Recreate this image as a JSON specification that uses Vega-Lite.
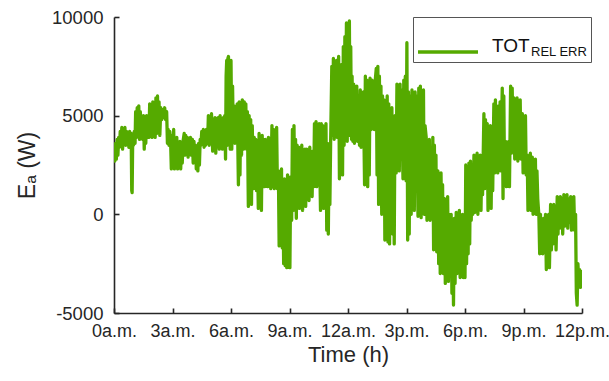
{
"$schema":"https://vega.github.io/schema/vega-lite/v6.json",
"width":468,"height":296,
"autosize":{"type":"none"},
"padding":{"left":114,"top":17,"right":27,"bottom":68},
"background":"white",
"config":{"view":{"stroke":null},"font":"Liberation Sans"},
"data":{"values":[
{"h":0,"e":3200},{"h":0.04,"e":2700},{"h":0.08,"e":3600},{"h":0.12,"e":2800},{"h":0.16,"e":3800},{"h":0.2,"e":3000},{"h":0.24,"e":3900},
{"h":0.28,"e":3400},{"h":0.32,"e":4200},{"h":0.36,"e":3500},{"h":0.4,"e":4400},{"h":0.44,"e":3300},{"h":0.48,"e":4300},{"h":0.52,"e":3600},{"h":0.56,"e":4400},
{"h":0.6,"e":3500},{"h":0.64,"e":4200},{"h":0.68,"e":3600},{"h":0.72,"e":4100},{"h":0.76,"e":3400},{"h":0.8,"e":4200},{"h":0.84,"e":3700},
{"h":0.88,"e":4100},{"h":0.91,"e":1200},{"h":0.93,"e":1100},{"h":0.96,"e":3900},{"h":1.0,"e":3500},{"h":1.04,"e":4200},{"h":1.08,"e":3600},
{"h":1.11,"e":5200},{"h":1.15,"e":3900},{"h":1.19,"e":5400},{"h":1.23,"e":4000},{"h":1.27,"e":5500},{"h":1.31,"e":3800},{"h":1.35,"e":5200},{"h":1.39,"e":4200},{"h":1.43,"e":4900},{"h":1.47,"e":3800},{"h":1.51,"e":5000},
{"h":1.55,"e":3300},{"h":1.59,"e":4800},{"h":1.63,"e":3600},{"h":1.67,"e":5000},{"h":1.71,"e":3900},{"h":1.75,"e":4700},
{"h":1.79,"e":3900},{"h":1.83,"e":5600},{"h":1.87,"e":4000},{"h":1.91,"e":5300},{"h":1.95,"e":3900},{"h":1.99,"e":5700},{"h":2.03,"e":4200},{"h":2.07,"e":5400},{"h":2.11,"e":3900},
{"h":2.15,"e":5900},{"h":2.19,"e":4100},{"h":2.23,"e":6000},{"h":2.27,"e":4300},{"h":2.31,"e":5700},{"h":2.35,"e":4000},
{"h":2.4,"e":5400},{"h":2.45,"e":4800},{"h":2.5,"e":5300},{"h":2.55,"e":4900},{"h":2.6,"e":5400},{"h":2.65,"e":4800},{"h":2.7,"e":5200},
{"h":2.74,"e":3600},{"h":2.78,"e":4300},{"h":2.82,"e":3500},{"h":2.86,"e":4200},
{"h":2.9,"e":3800},{"h":2.94,"e":2300},{"h":2.98,"e":4000},{"h":3.02,"e":2600},{"h":3.06,"e":4300},{"h":3.1,"e":2300},{"h":3.14,"e":3700},{"h":3.18,"e":2500},{"h":3.22,"e":3900},
{"h":3.26,"e":2300},{"h":3.3,"e":3600},{"h":3.34,"e":2500},{"h":3.38,"e":3700},{"h":3.42,"e":2300},{"h":3.46,"e":3400},{"h":3.5,"e":2600},{"h":3.54,"e":3700},
{"h":3.6,"e":4100},{"h":3.64,"e":3000},{"h":3.68,"e":4000},{"h":3.72,"e":3100},{"h":3.76,"e":3900},{"h":3.8,"e":2900},{"h":3.84,"e":3800},{"h":3.88,"e":3200},{"h":3.92,"e":3900},{"h":3.96,"e":3000},
{"h":4.02,"e":3800},{"h":4.06,"e":2600},{"h":4.1,"e":3700},{"h":4.14,"e":2800},{"h":4.18,"e":3500},{"h":4.22,"e":2300},{"h":4.26,"e":3300},{"h":4.3,"e":2200},{"h":4.34,"e":3600},{"h":4.38,"e":2500},{"h":4.42,"e":3800},
{"h":4.46,"e":3500},{"h":4.5,"e":4200},{"h":4.54,"e":3600},{"h":4.58,"e":4300},{"h":4.62,"e":3400},{"h":4.66,"e":4000},{"h":4.7,"e":3500},{"h":4.74,"e":4300},
{"h":4.8,"e":3600},{"h":4.84,"e":5000},{"h":4.88,"e":3500},{"h":4.92,"e":4800},{"h":4.96,"e":3700},{"h":5.0,"e":5100},
{"h":5.06,"e":3200},{"h":5.1,"e":4800},{"h":5.14,"e":3400},{"h":5.18,"e":4900},{"h":5.22,"e":3100},{"h":5.26,"e":4600},{"h":5.3,"e":3500},{"h":5.34,"e":4900},
{"h":5.4,"e":3300},{"h":5.44,"e":5000},{"h":5.48,"e":3600},{"h":5.52,"e":4800},{"h":5.56,"e":3300},{"h":5.6,"e":4900},{"h":5.64,"e":3800},{"h":5.68,"e":5000},
{"h":5.72,"e":2800},{"h":5.75,"e":7000},{"h":5.78,"e":7800},{"h":5.81,"e":3500},{"h":5.84,"e":7900},{"h":5.87,"e":8000},{"h":5.9,"e":4000},{"h":5.93,"e":7600},{"h":5.96,"e":3300},
{"h":6.0,"e":7800},{"h":6.04,"e":3300},{"h":6.08,"e":6500},
{"h":6.12,"e":3700},{"h":6.16,"e":5500},{"h":6.2,"e":3600},{"h":6.24,"e":5400},{"h":6.28,"e":4000},{"h":6.32,"e":5600},
{"h":6.38,"e":1500},{"h":6.42,"e":5700},{"h":6.46,"e":2000},{"h":6.5,"e":5500},{"h":6.54,"e":3000},{"h":6.58,"e":5800},
{"h":6.64,"e":3300},{"h":6.68,"e":5700},{"h":6.72,"e":3500},{"h":6.76,"e":5600},{"h":6.8,"e":3300},{"h":6.84,"e":5200},
{"h":6.89,"e":400},{"h":6.93,"e":5000},{"h":6.97,"e":1000},{"h":7.01,"e":4800},{"h":7.05,"e":500},{"h":7.09,"e":4500},
{"h":7.15,"e":1300},{"h":7.19,"e":3900},{"h":7.23,"e":2000},{"h":7.27,"e":3800},{"h":7.31,"e":1200},{"h":7.35,"e":3700},
{"h":7.4,"e":300},{"h":7.44,"e":4100},{"h":7.48,"e":1200},{"h":7.52,"e":3900},{"h":7.56,"e":200},{"h":7.6,"e":4000},{"h":7.64,"e":1500},{"h":7.68,"e":3800},{"h":7.72,"e":1400},
{"h":7.76,"e":3800},{"h":7.8,"e":1500},{"h":7.84,"e":3600},{"h":7.88,"e":1400},{"h":7.92,"e":3900},{"h":7.96,"e":1600},{"h":8.0,"e":3700},{"h":8.04,"e":1300},
{"h":8.1,"e":4500},{"h":8.14,"e":1400},{"h":8.18,"e":4300},{"h":8.22,"e":1300},{"h":8.26,"e":4100},{"h":8.3,"e":1800},{"h":8.34,"e":4400},{"h":8.38,"e":1300},
{"h":8.43,"e":2200},{"h":8.47,"e":-1600},{"h":8.51,"e":1800},{"h":8.55,"e":-1000},{"h":8.59,"e":2300},{"h":8.63,"e":-1700},{"h":8.66,"e":1500},
{"h":8.7,"e":-2500},{"h":8.74,"e":1800},{"h":8.78,"e":-2600},{"h":8.82,"e":1200},{"h":8.86,"e":-2700},{"h":8.9,"e":2000},{"h":8.94,"e":-2200},{"h":8.98,"e":1600},{"h":9.02,"e":-2700},{"h":9.06,"e":1900},
{"h":9.11,"e":-300},{"h":9.15,"e":4300},{"h":9.19,"e":200},{"h":9.23,"e":4500},{"h":9.27,"e":800},{"h":9.31,"e":3800},{"h":9.35,"e":-200},{"h":9.39,"e":3500},{"h":9.43,"e":500},
{"h":9.47,"e":3400},{"h":9.51,"e":300},{"h":9.55,"e":3200},{"h":9.59,"e":1200},{"h":9.63,"e":3500},{"h":9.67,"e":200},{"h":9.71,"e":3000},{"h":9.75,"e":800},{"h":9.79,"e":3300},{"h":9.83,"e":400},
{"h":9.88,"e":3300},{"h":9.92,"e":800},{"h":9.96,"e":3100},{"h":10.0,"e":700},{"h":10.04,"e":3400},{"h":10.08,"e":1500},{"h":10.12,"e":2900},{"h":10.16,"e":900},{"h":10.2,"e":3200},
{"h":10.24,"e":1400},{"h":10.28,"e":4600},{"h":10.32,"e":1800},{"h":10.36,"e":4700},{"h":10.4,"e":1400},{"h":10.44,"e":4500},{"h":10.48,"e":2000},{"h":10.52,"e":4600},
{"h":10.59,"e":200},{"h":10.63,"e":4600},{"h":10.67,"e":1000},{"h":10.71,"e":4500},{"h":10.75,"e":300},{"h":10.79,"e":4200},{"h":10.83,"e":1500},{"h":10.87,"e":4600},
{"h":10.91,"e":-800},{"h":10.95,"e":3600},{"h":10.99,"e":-1000},{"h":11.03,"e":3000},{"h":11.07,"e":500},{"h":11.11,"e":3700},
{"h":11.17,"e":7500},{"h":11.21,"e":4000},{"h":11.25,"e":7900},{"h":11.29,"e":3800},{"h":11.33,"e":6500},{"h":11.37,"e":4200},{"h":11.41,"e":7800},{"h":11.45,"e":3900},
{"h":11.52,"e":8000},{"h":11.56,"e":1800},{"h":11.6,"e":7000},{"h":11.64,"e":3000},{"h":11.68,"e":7600},{"h":11.72,"e":2000},
{"h":11.76,"e":8500},{"h":11.8,"e":3500},{"h":11.84,"e":9000},{"h":11.88,"e":4500},{"h":11.92,"e":9700},{"h":11.96,"e":3700},
{"h":12.0,"e":9300},{"h":12.04,"e":4000},{"h":12.07,"e":9800},{"h":12.1,"e":5000},{"h":12.14,"e":8500},{"h":12.18,"e":3800},{"h":12.21,"e":7000},
{"h":12.25,"e":3700},{"h":12.29,"e":6600},{"h":12.33,"e":3600},{"h":12.37,"e":6200},{"h":12.41,"e":4000},{"h":12.45,"e":6500},{"h":12.49,"e":3700},{"h":12.53,"e":6000},
{"h":12.59,"e":3500},{"h":12.63,"e":6300},{"h":12.67,"e":3400},{"h":12.71,"e":6100},{"h":12.75,"e":3800},{"h":12.79,"e":6200},
{"h":12.85,"e":1500},{"h":12.89,"e":7000},{"h":12.93,"e":2500},{"h":12.97,"e":6800},{"h":13.01,"e":1400},{"h":13.05,"e":6500},{"h":13.09,"e":2000},{"h":13.13,"e":6900},
{"h":13.19,"e":4300},{"h":13.23,"e":6800},{"h":13.27,"e":4500},{"h":13.31,"e":6600},{"h":13.35,"e":4300},{"h":13.39,"e":6700},
{"h":13.45,"e":7400},{"h":13.49,"e":2000},{"h":13.53,"e":7500},{"h":13.57,"e":500},{"h":13.61,"e":7000},{"h":13.65,"e":1500},{"h":13.69,"e":6500},{"h":13.73,"e":0},{"h":13.77,"e":6000},{"h":13.81,"e":1000},{"h":13.85,"e":5800},{"h":13.89,"e":-1300},{"h":13.93,"e":5500},{"h":13.97,"e":-500},{"h":14.01,"e":6000},
{"h":14.05,"e":-1400},{"h":14.09,"e":5600},{"h":14.13,"e":-1500},{"h":14.17,"e":5200},{"h":14.21,"e":200},{"h":14.25,"e":5400},{"h":14.29,"e":-1000},{"h":14.33,"e":4800},{"h":14.37,"e":-1500},{"h":14.41,"e":5000},
{"h":14.47,"e":2100},{"h":14.51,"e":6600},{"h":14.55,"e":2500},{"h":14.59,"e":6400},{"h":14.63,"e":2200},{"h":14.67,"e":6600},{"h":14.71,"e":3000},{"h":14.75,"e":6300},
{"h":14.82,"e":1800},{"h":14.86,"e":6800},{"h":14.9,"e":2500},{"h":14.94,"e":7000},{"h":14.98,"e":1700},{"h":15.02,"e":8700},
{"h":15.06,"e":-1300},{"h":15.1,"e":6200},{"h":15.14,"e":-1000},{"h":15.18,"e":6000},
{"h":15.24,"e":0},{"h":15.28,"e":6300},{"h":15.32,"e":800},{"h":15.36,"e":6100},{"h":15.4,"e":200},{"h":15.44,"e":6200},{"h":15.48,"e":1500},{"h":15.52,"e":6000},
{"h":15.59,"e":-100},{"h":15.63,"e":6400},{"h":15.67,"e":500},{"h":15.71,"e":6500},{"h":15.75,"e":-170},{"h":15.79,"e":5500},{"h":15.83,"e":1000},{"h":15.87,"e":6300},{"h":15.91,"e":0},{"h":15.95,"e":4500},
{"h":16.01,"e":3900},{"h":16.05,"e":-300},{"h":16.09,"e":3500},{"h":16.13,"e":500},{"h":16.17,"e":3800},{"h":16.21,"e":-300},{"h":16.25,"e":3000},{"h":16.29,"e":0},
{"h":16.35,"e":3900},{"h":16.39,"e":-1800},{"h":16.43,"e":3500},{"h":16.47,"e":-500},{"h":16.51,"e":3000},{"h":16.55,"e":-1900},
{"h":16.61,"e":2200},{"h":16.65,"e":-2500},{"h":16.69,"e":1800},{"h":16.73,"e":-3000},{"h":16.77,"e":2100},{"h":16.81,"e":-1500},{"h":16.85,"e":1500},{"h":16.89,"e":-3000},
{"h":16.95,"e":800},{"h":16.99,"e":-3500},{"h":17.03,"e":500},{"h":17.07,"e":-2500},{"h":17.11,"e":900},{"h":17.15,"e":-3400},{"h":17.19,"e":0},{"h":17.23,"e":-3000},
{"h":17.29,"e":0},{"h":17.33,"e":-4000},{"h":17.37,"e":-500},{"h":17.41,"e":-4600},{"h":17.45,"e":-200},{"h":17.49,"e":-3500},
{"h":17.55,"e":100},{"h":17.59,"e":-3000},{"h":17.63,"e":-400},{"h":17.67,"e":-2500},{"h":17.71,"e":200},{"h":17.75,"e":-3200},{"h":17.79,"e":-500},{"h":17.83,"e":-2800},{"h":17.87,"e":0},{"h":17.91,"e":-3200},{"h":17.95,"e":-300},
{"h":18.0,"e":-3200},{"h":18.04,"e":2500},{"h":18.08,"e":-2500},{"h":18.12,"e":1500},{"h":18.16,"e":-2000},{"h":18.2,"e":2600},{"h":18.24,"e":-1500},
{"h":18.28,"e":2700},{"h":18.32,"e":-300},{"h":18.36,"e":2500},{"h":18.4,"e":0},
{"h":18.46,"e":3000},{"h":18.5,"e":100},{"h":18.54,"e":2800},{"h":18.58,"e":500},{"h":18.62,"e":3100},{"h":18.66,"e":0},{"h":18.7,"e":2600},{"h":18.74,"e":800},{"h":18.78,"e":3000},{"h":18.82,"e":200},{"h":18.86,"e":2900},{"h":18.9,"e":1000},
{"h":18.97,"e":5100},{"h":19.01,"e":1300},{"h":19.05,"e":4800},{"h":19.09,"e":1500},
{"h":19.14,"e":4600},{"h":19.18,"e":200},{"h":19.22,"e":4300},{"h":19.26,"e":800},{"h":19.3,"e":4500},{"h":19.34,"e":300},{"h":19.38,"e":3800},{"h":19.42,"e":1200},
{"h":19.48,"e":5600},{"h":19.52,"e":2100},{"h":19.56,"e":5800},{"h":19.6,"e":2500},{"h":19.64,"e":5200},{"h":19.68,"e":2100},{"h":19.72,"e":5500},{"h":19.76,"e":3000},{"h":19.8,"e":5700},{"h":19.84,"e":2200},
{"h":19.91,"e":6400},{"h":19.95,"e":800},{"h":19.99,"e":6000},{"h":20.03,"e":1500},
{"h":20.08,"e":3700},{"h":20.12,"e":1400},{"h":20.16,"e":3500},{"h":20.2,"e":1800},{"h":20.24,"e":3700},{"h":20.28,"e":1400},
{"h":20.34,"e":6500},{"h":20.38,"e":3100},{"h":20.42,"e":6400},{"h":20.46,"e":3500},
{"h":20.51,"e":5900},{"h":20.55,"e":2800},{"h":20.59,"e":5800},{"h":20.63,"e":3500},{"h":20.67,"e":5900},{"h":20.71,"e":2700},{"h":20.75,"e":5500},{"h":20.79,"e":3200},{"h":20.83,"e":5800},{"h":20.87,"e":2800},
{"h":20.94,"e":5100},{"h":20.98,"e":2100},{"h":21.02,"e":4800},{"h":21.06,"e":2500},{"h":21.1,"e":5000},{"h":21.14,"e":2000},
{"h":21.19,"e":3000},{"h":21.23,"e":200},{"h":21.27,"e":2900},{"h":21.31,"e":800},{"h":21.35,"e":3100},{"h":21.39,"e":200},
{"h":21.45,"e":2900},{"h":21.49,"e":0},{"h":21.53,"e":2500},{"h":21.57,"e":500},{"h":21.61,"e":2800},{"h":21.65,"e":0},{"h":21.69,"e":2200},{"h":21.73,"e":800},
{"h":21.79,"e":-100},{"h":21.83,"e":-2000},{"h":21.87,"e":0},{"h":21.91,"e":-1500},{"h":21.95,"e":-300},{"h":21.99,"e":-2000},{"h":22.03,"e":-200},{"h":22.07,"e":-1800},
{"h":22.13,"e":0},{"h":22.17,"e":-2800},{"h":22.21,"e":-300},{"h":22.25,"e":-2500},{"h":22.29,"e":0},{"h":22.33,"e":-2700},
{"h":22.39,"e":500},{"h":22.43,"e":-1800},{"h":22.47,"e":300},{"h":22.51,"e":-1500},{"h":22.55,"e":500},{"h":22.59,"e":-1000},{"h":22.63,"e":400},{"h":22.67,"e":-1800},
{"h":22.73,"e":900},{"h":22.77,"e":-1000},{"h":22.81,"e":800},{"h":22.85,"e":-700},{"h":22.89,"e":900},{"h":22.93,"e":-500},{"h":22.97,"e":800},{"h":23.01,"e":-1000},
{"h":23.07,"e":1000},{"h":23.11,"e":-600},{"h":23.15,"e":900},{"h":23.19,"e":-300},{"h":23.23,"e":1000},{"h":23.27,"e":-700},{"h":23.31,"e":800},{"h":23.35,"e":-400},
{"h":23.42,"e":900},{"h":23.46,"e":-800},{"h":23.5,"e":700},{"h":23.54,"e":-500},{"h":23.58,"e":900},{"h":23.62,"e":-800},
{"h":23.67,"e":0},{"h":23.71,"e":-4000},{"h":23.75,"e":-4600},{"h":23.79,"e":-2500},
{"h":23.84,"e":-3500},{"h":23.88,"e":-2800},{"h":23.92,"e":-3700},{"h":23.96,"e":-2900},{"h":24.0,"e":-3200}
]},
"mark":{"type":"line","strokeWidth":3.3,"strokeJoin":"round","strokeCap":"round","clip":true},
"encoding":{
"x":{"field":"h","type":"quantitative",
"scale":{"domain":[0,24],"nice":false,"zero":false},
"axis":{"title":"Time (h)","values":[0,3,6,9,12,15,18,21,24],
"labelExpr":"datum.value==0?'0a.m.':datum.value==3?'3a.m.':datum.value==6?'6a.m.':datum.value==9?'9a.m.':datum.value==12?'12a.m.':datum.value==15?'3p.m.':datum.value==18?'6p.m.':datum.value==21?'9p.m.':'12p.m.'",
"grid":false,"domainColor":"#262626","domainWidth":1.6,"tickColor":"#262626","tickWidth":1.6,"tickSize":-5,
"labelFontSize":18,"labelColor":"#262626","labelPadding":14,"labelFlush":false,"labelOverlap":false,
"titleFontSize":22,"titleFontWeight":"normal","titleColor":"#262626","titlePadding":4}},
"y":{"field":"e","type":"quantitative",
"scale":{"domain":[-5000,10000],"nice":false,"zero":false},
"axis":{"title":"Eₐ (W)","values":[-5000,0,5000,10000],
"labelExpr":"''+datum.value",
"grid":false,"domainColor":"#262626","domainWidth":1.6,"tickColor":"#262626","tickWidth":1.6,"tickSize":-5,
"labelFontSize":18.5,"labelColor":"#262626","labelPadding":16,
"titleFontSize":23,"titleFontWeight":"normal","titleColor":"#262626","titlePadding":12}},
"color":{"datum":"TOT","type":"nominal",
"scale":{"range":["#55aa00"]},
"legend":{"orient":"none","legendX":299,"legendY":0,
"title":"REL ERR","titleOrient":"right","titleFontSize":13,"titleFontWeight":"normal","titleColor":"#111","titleBaseline":"bottom","titleAnchor":"end","titlePadding":1,
"symbolType":"stroke","symbolSize":3600,"symbolStrokeWidth":3.5,"symbolOffset":0,
"labelFontSize":19,"labelColor":"#111","labelOffset":12,"labelBaseline":"alphabetic",
"strokeColor":"#555","padding":3,"fillColor":"white","cornerRadius":0}}
}
}
